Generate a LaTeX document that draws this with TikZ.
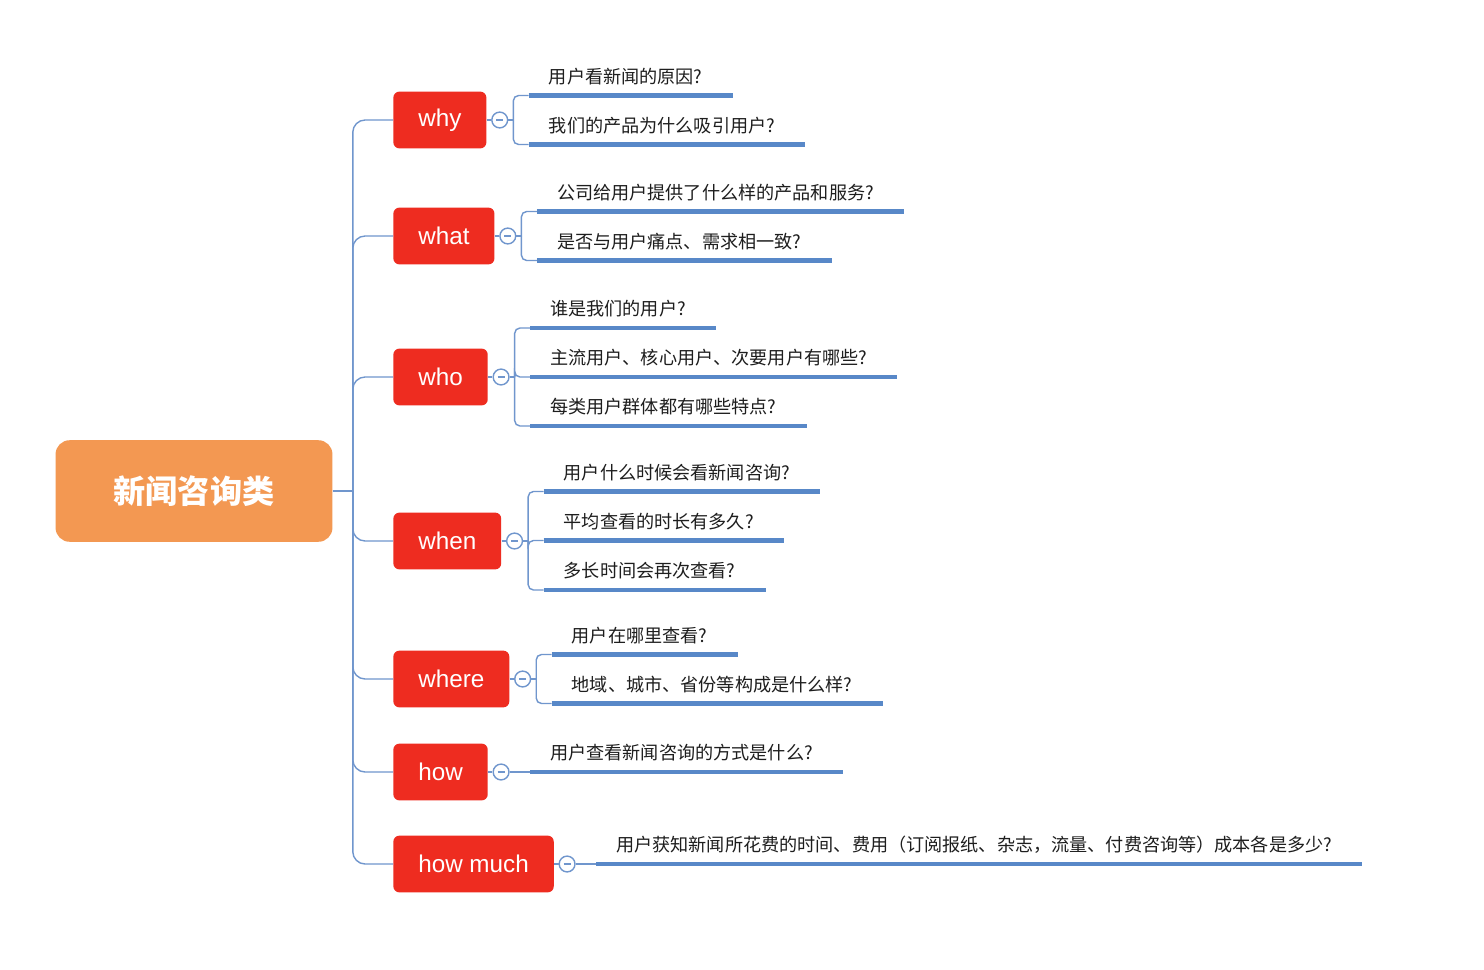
\documentclass[tikz,border=0pt]{standalone}
\usepackage{fontspec}
\setmainfont{Noto Sans CJK SC}
\newfontfamily\branchfont{Liberation Sans}
\usepackage{tikz}
\usetikzlibrary{positioning, calc}
\definecolor{rootorange}{RGB}{243,152,82}
\definecolor{branchred}{RGB}{238,44,32}
\definecolor{linkblue}{RGB}{112,150,205}
\definecolor{ulineblue}{RGB}{88,136,200}
\definecolor{leaftext}{RGB}{30,30,30}
\tikzset{
    root/.style={
        fill = rootorange, text = white,
        rounded corners = 8pt,
        minimum width = 157.6pt,
        minimum height = 57.8pt,
        font = \fontsize{18.3}{20}\selectfont\bfseries
    },
    branch/.style={
        fill = branchred, text = white,
        anchor = west,
        rounded corners = 3.4pt,
        minimum height = 32.3pt,
        inner xsep = 14.2pt,
        font = \branchfont\fontsize{13.8}{16}\selectfont
    },
    fold/.style={
        draw = linkblue, fill = white, circle,
        minimum size = 9pt, inner sep = 0pt, line width = 0.8pt,
        path picture = {\draw[linkblue, line width=0.6pt]
            ([xshift=-2pt]path picture bounding box.center) --
            ([xshift=2pt]path picture bounding box.center);}
    },
    leaf/.style={
        anchor = south west,
        inner xsep = 0pt, inner ysep = 6.8pt, text depth = 0pt,
        text = leaftext,
        font = \fontsize{10.32}{12}\selectfont,
        execute at begin node = \hspace*{11.3pt},
        execute at end node = \hspace*{17pt}
    },
    conn/.style = {draw = linkblue, line width = 0.8pt, rounded corners = 3pt},
    uline/.style = {draw = ulineblue, line width = 2.3pt}
}
\begin{document}
\begin{tikzpicture}[x=0.02cm, y=-0.02cm]

    % Page
    \fill[white] (0,0) rectangle (1484,970);

    % Root
    \node[root] (root) at (194,491) {新闻咨询类};
    \coordinate[right = 0.4cm of root.east] (trunk);

    % Branches
    \node[branch] (why) at (393,120) {why};
    \node[branch] (what) at (393,236) {what};
    \node[branch] (who) at (393,377) {who};
    \node[branch] (when) at (393,541) {when};
    \node[branch] (where) at (393,679) {where};
    \node[branch] (how) at (393,772) {how};
    \node[branch] (howmuch) at (393,864) {how much};

    % Folds
    \foreach \b in {why,what,who,when,where,how,howmuch}
        \node[fold, right = 2.5pt of \b] (\b-fold) {};

    % Leaves
    \node[leaf] (why1) at ($(why-fold)+(29,-24.5)$) {用户看新闻的原因?};
    \node[leaf] (why2) at ($(why-fold)+(29,24.5)$) {我们的产品为什么吸引用户?};

    \node[leaf] (what1) at ($(what-fold)+(29,-24.5)$) {公司给用户提供了什么样的产品和服务?};
    \node[leaf] (what2) at ($(what-fold)+(29,24.5)$) {是否与用户痛点、需求相一致?};

    \node[leaf] (who1) at ($(who-fold)+(29,-49)$) {谁是我们的用户?};
    \node[leaf] (who2) at ($(who-fold)+(29,0)$) {主流用户、核心用户、次要用户有哪些?};
    \node[leaf] (who3) at ($(who-fold)+(29,49)$) {每类用户群体都有哪些特点?};

    \node[leaf] (when1) at ($(when-fold)+(29,-49.5)$) {用户什么时候会看新闻咨询?};
    \node[leaf] (when2) at ($(when-fold)+(29,-0.5)$) {平均查看的时长有多久?};
    \node[leaf] (when3) at ($(when-fold)+(29,49)$) {多长时间会再次查看?};

    \node[leaf] (where1) at ($(where-fold)+(29,-24.5)$) {用户在哪里查看?};
    \node[leaf] (where2) at ($(where-fold)+(29,24.5)$) {地域、城市、省份等构成是什么样?};

    \node[leaf] (how1) at ($(how-fold)+(29,0)$) {用户查看新闻咨询的方式是什么?};

    \node[leaf] (howmuch1) at ($(howmuch-fold)+(29,0)$) {用户获知新闻所花费的时间、费用（订阅报纸、杂志，流量、付费咨询等）成本各是多少?};

    % Lines
    \draw[conn] (root.east) -- (trunk);
    \foreach \b in {why,what,who,when,where,how,howmuch} {
        \draw[conn, rounded corners=7pt] (trunk) |- (\b.west);
        \draw[conn] (\b) -- (\b-fold);
    }
    \foreach \b in {why,what,who,when,where}
        \draw[conn] (\b-fold.east) -- ++(5,0) coordinate (\b-joint);
    \foreach \b/\n in {why/why1, why/why2, what/what1, what/what2,
                       who/who1, who/who2, who/who3,
                       when/when1, when/when2, when/when3,
                       where/where1, where/where2}
        \draw[conn] (\b-joint) |- (\n.south west);
    \draw[conn] (how-fold) -- (how1.south west);
    \draw[conn] (howmuch-fold) -- (howmuch1.south west);

    % Underlines
    \foreach \n in {why1,why2,what1,what2,who1,who2,who3,when1,when2,when3,
                    where1,where2,how1,howmuch1}
        \draw[uline] (\n.south west) -- (\n.south east);

\end{tikzpicture}
\end{document}
